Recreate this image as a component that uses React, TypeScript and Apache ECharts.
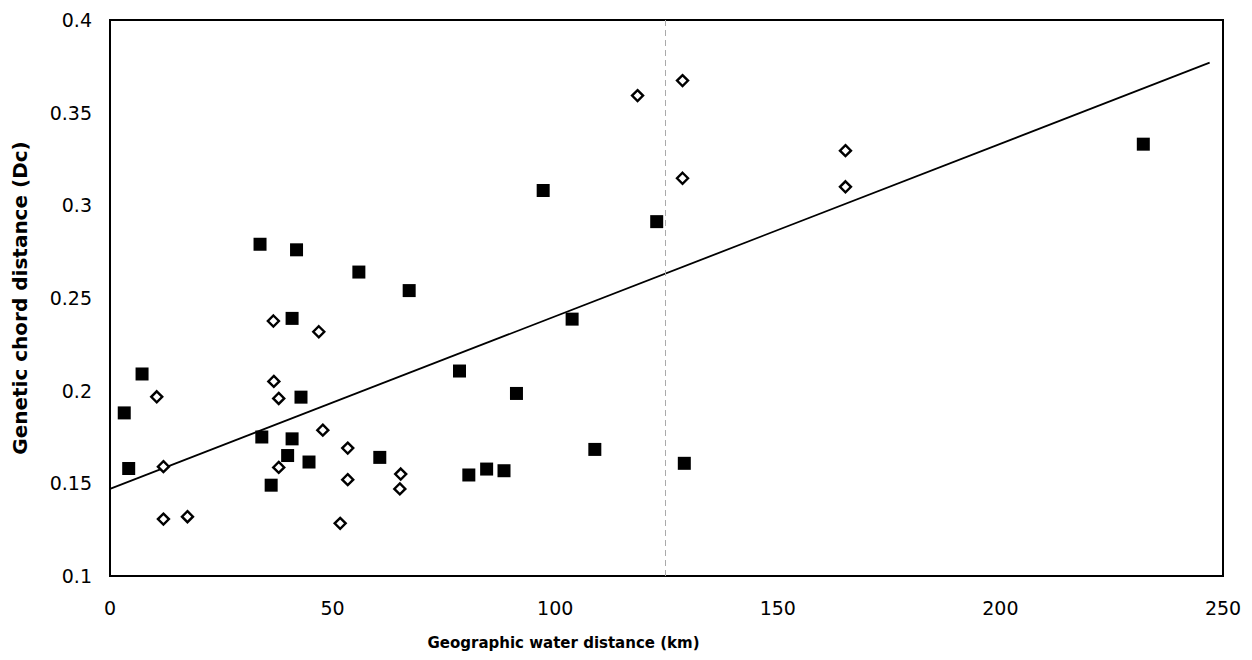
import React, { useEffect, useRef } from "react";
import * as echarts from "echarts";

// Filled squares: [geographic water distance (km), genetic chord distance (Dc)]
const filledSquares: [number, number][] = [
  [3.2, 0.188], [4.2, 0.158], [7.2, 0.209], [33.7, 0.279], [41.9, 0.276],
  [40.9, 0.239], [34.1, 0.175], [40.9, 0.174], [42.9, 0.1965], [39.9, 0.165],
  [44.7, 0.1615], [36.2, 0.149], [55.9, 0.264], [67.2, 0.254], [60.6, 0.164],
  [78.5, 0.2106], [80.6, 0.1545], [84.6, 0.1577], [88.5, 0.1568], [91.3, 0.1985],
  [97.3, 0.308], [103.8, 0.2386], [108.9, 0.1683], [122.8, 0.2912], [129.0, 0.1608],
  [232.1, 0.333],
];

// Open diamonds
const openDiamonds: [number, number][] = [
  [10.5, 0.1967], [12.0, 0.159], [12.0, 0.1307], [17.4, 0.132], [36.7, 0.2376],
  [46.9, 0.2318], [36.8, 0.205], [37.9, 0.1958], [47.8, 0.1787], [53.4, 0.169],
  [37.9, 0.1586], [53.4, 0.152], [65.3, 0.155], [65.1, 0.147], [51.7, 0.1284],
  [118.5, 0.3592], [128.6, 0.3673], [128.6, 0.3146], [165.2, 0.3295], [165.2, 0.31],
];

// Linear trend line end points
const trendLine: [number, number][] = [
  [0, 0.147],
  [247, 0.377],
];

// Faint vertical reference (scan artifact) position
const verticalMark = 124.8;

const xAxisTitle = "Geographic water distance (km)";
const yAxisTitle = "Genetic chord distance (Dc)";

export default function App() {
  const ref = useRef<HTMLDivElement>(null);

  useEffect(() => {
    if (!ref.current) return;
    const chart = echarts.init(ref.current, undefined, { renderer: "svg" });
    const font = "'DejaVu Sans', Verdana, sans-serif";
    chart.setOption({
      animation: false,
      backgroundColor: "#ffffff",
      grid: {
        left: 110,
        top: 20,
        right: 29,
        bottom: 84,
        show: true,
        borderColor: "#000",
        borderWidth: 2,
        backgroundColor: "transparent",
      },
      xAxis: {
        type: "value",
        min: 0,
        max: 250,
        interval: 50,
        name: xAxisTitle,
        nameLocation: "middle",
        nameGap: 59,
        nameTextStyle: {
          fontFamily: font,
          fontWeight: "bold",
          fontSize: 15,
          color: "#000",
          padding: [0, 206, 0, 0],
        },
        axisLine: { show: false },
        axisTick: { show: false },
        splitLine: { show: false },
        axisLabel: {
          fontFamily: font,
          fontSize: 19,
          color: "#000",
          margin: 22,
        },
      },
      yAxis: {
        type: "value",
        min: 0.1,
        max: 0.4,
        interval: 0.05,
        name: yAxisTitle,
        nameLocation: "middle",
        nameGap: 80,
        nameTextStyle: {
          fontFamily: font,
          fontWeight: "bold",
          fontSize: 20,
          color: "#000",
        },
        axisLine: { show: false },
        axisTick: { show: false },
        splitLine: { show: false },
        axisLabel: {
          fontFamily: font,
          fontSize: 19,
          color: "#000",
          margin: 18,
          formatter: (v: number) => String(parseFloat(v.toFixed(2))),
        },
      },
      series: [
        {
          type: "line",
          data: trendLine,
          symbol: "none",
          lineStyle: { color: "#000", width: 1.8 },
          z: 1,
          markLine: {
            silent: true,
            symbol: "none",
            label: { show: false },
            lineStyle: { color: "#aaa", width: 1, type: [6, 4] },
            data: [{ xAxis: verticalMark }],
          },
        },
        {
          type: "scatter",
          data: openDiamonds,
          symbol: "diamond",
          symbolSize: [11, 11],
          itemStyle: { color: "#ffffff", borderColor: "#000", borderWidth: 2.4, opacity: 1 },
          z: 3,
        },
        {
          type: "scatter",
          data: filledSquares,
          symbol: "rect",
          symbolSize: 13,
          itemStyle: { color: "#000", opacity: 1 },
          z: 4,
        },
      ],
    });
    return () => chart.dispose();
  }, []);

  return (
    <div
      ref={ref}
      style={{ position: "fixed", left: 0, top: 0, width: 1252, height: 660 }}
    />
  );
}
